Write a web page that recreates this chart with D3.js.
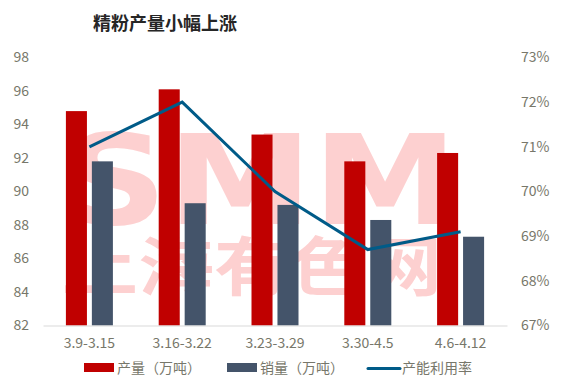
<!DOCTYPE html>
<html>
<head>
<meta charset="utf-8">
<script src="https://cdn.jsdelivr.net/npm/d3@7"></script>
<style>
  body { margin: 0; background: #fff; }
  svg text { font-family: "Noto Sans CJK SC", "Noto Sans", sans-serif; }
</style>
</head>
<body>
<svg id="chart"></svg>
<script>
// data
const weeks = ["3.9-3.15", "3.16-3.22", "3.23-3.29", "3.30-4.5", "4.6-4.12"];
const output = [94.8, 96.1, 93.4, 91.8, 92.3];     // 产量（万吨）
const sales = [91.8, 89.3, 89.2, 88.3, 87.3];      // 销量（万吨）
const utilization = [0.710, 0.720, 0.700, 0.687, 0.691]; // 产能利用率
const leftTicks = [82, 84, 86, 88, 90, 92, 94, 96, 98];
const rightTicks = [0.67, 0.68, 0.69, 0.70, 0.71, 0.72, 0.73];

const W = 569, H = 382;
const margin = { top: 57.5, right: 62, bottom: 56.5, left: 43 };
const tickColor = "#77776a";

const svg = d3.select("#chart").attr("width", W).attr("height", H);

const x = d3.scaleBand().domain(weeks).range([margin.left, W - margin.right]);
const bw = x.bandwidth();
// two bars per week, 21px wide with a 5px gap
const xSub = d3.scaleBand()
    .domain(["output", "sales"])
    .range([bw / 2 - 23.5, bw / 2 + 23.5])
    .paddingInner(0.19);

const yL = d3.scaleLinear().domain([82, 98]).range([H - margin.bottom, margin.top]);
const yR = d3.scaleLinear().domain([0.67, 0.73]).range([H - margin.bottom, margin.top]);

// watermark (one text element, two lines)
const wm = svg.append("text").attr("fill", "#fdd0d0").style("font-weight", "bold");
wm.append("tspan")
    .attr("x", 62).attr("y", 224)
    .attr("textLength", 396).attr("lengthAdjust", "spacingAndGlyphs")
    .style("font-family", "DejaVu Sans")
    .style("font-size", "124px")
    .text("SMM");
wm.append("tspan")
    .attr("x", 62).attr("y", 290)
    .attr("textLength", 380).attr("lengthAdjust", "spacingAndGlyphs")
    .style("font-size", "64px")
    .text("上海有色网");

// title
svg.append("text")
    .attr("x", 93).attr("y", 30)
    .attr("fill", "#262626")
    .style("font-size", "18px")
    .style("font-weight", "bold")
    .text("精粉产量小幅上涨");

// left axis
const yAxisL = d3.axisLeft(yL).tickValues(leftTicks).tickSize(0).tickPadding(0);
svg.append("g")
    .attr("transform", `translate(29,0)`)
    .call(yAxisL)
    .call(g => g.select(".domain").remove())
    .selectAll("text")
    .attr("fill", tickColor)
    .style("font-size", "14px");

// right axis
const yAxisR = d3.axisRight(yR).tickValues(rightTicks).tickSize(0).tickPadding(0)
    .tickFormat(d3.format(".0%"));
svg.append("g")
    .attr("transform", `translate(521,0)`)
    .call(yAxisR)
    .call(g => g.select(".domain").remove())
    .selectAll("text")
    .attr("fill", tickColor)
    .style("font-size", "14px");

// bars
const groups = svg.append("g").selectAll("g")
    .data(weeks)
    .join("g")
    .attr("transform", d => `translate(${x(d)},0)`);

groups.append("rect")
    .attr("x", xSub("output"))
    .attr("width", xSub.bandwidth())
    .attr("y", (d, i) => yL(output[i]))
    .attr("height", (d, i) => yL(82) - yL(output[i]))
    .attr("fill", "#c00000");

groups.append("rect")
    .attr("x", xSub("sales"))
    .attr("width", xSub.bandwidth())
    .attr("y", (d, i) => yL(sales[i]))
    .attr("height", (d, i) => yL(82) - yL(sales[i]))
    .attr("fill", "#44546a");

// x axis
const xAxis = d3.axisBottom(x).tickSize(0).tickPadding(13);
svg.append("g")
    .attr("transform", `translate(0,${yL(82)})`)
    .call(xAxis)
    .call(g => g.select(".domain").attr("stroke", "#d9d9d9"))
    .selectAll("text")
    .attr("fill", tickColor)
    .style("font-size", "14px");

// utilization line
const line = d3.line()
    .x((d, i) => x(weeks[i]) + bw / 2)
    .y(d => yR(d));

svg.append("path")
    .datum(utilization)
    .attr("d", line)
    .attr("fill", "none")
    .attr("stroke", "#005b88")
    .attr("stroke-width", 3);

// legend
const legend = svg.append("g").style("font-size", "14px").attr("fill", tickColor);
legend.append("rect").attr("x", 84).attr("y", 363).attr("width", 30).attr("height", 9).attr("fill", "#c00000");
legend.append("text").attr("x", 117).attr("y", 373).text("产量（万吨）");
legend.append("rect").attr("x", 227).attr("y", 363).attr("width", 30).attr("height", 9).attr("fill", "#44546a");
legend.append("text").attr("x", 260).attr("y", 373).text("销量（万吨）");
legend.append("line").attr("x1", 368).attr("x2", 400).attr("y1", 368.5).attr("y2", 368.5)
    .attr("stroke", "#005b88").attr("stroke-width", 3).attr("stroke-linecap", "round");
legend.append("text").attr("x", 402).attr("y", 373).text("产能利用率");
</script>
</body>
</html>
